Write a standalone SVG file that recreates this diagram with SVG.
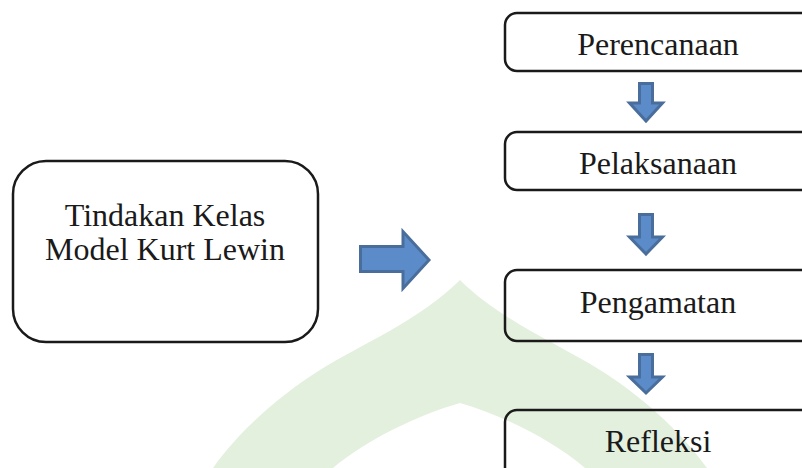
<svg xmlns="http://www.w3.org/2000/svg" width="802" height="468" viewBox="0 0 802 468">
<style>
.box{fill:none;stroke:#1a1a1a;stroke-width:2.5}
.lbl{font-family:"Liberation Serif","Times New Roman",serif;font-size:32px;fill:#1a1a1a;text-anchor:middle}
.arr{fill:#5b8bc8;stroke:#4a6e9c;stroke-width:3;stroke-linejoin:miter}
.wm{fill:#e4f0de}
</style>
<rect width="802" height="468" fill="#ffffff"/>
<path class="wm" d="M213,468 C240,430 280,395 320,370 C360,345 420,320 460,280 C500,320 560,345 600,370 C640,395 680,430 707,468 L585,468 C552,440 502,415 460,403 C418,415 366,440 333,468 Z"/>
<g id="node-tindakan">
<rect class="box" x="13" y="161" width="305" height="181" rx="33" ry="33"/>
<text class="lbl" x="165" y="226">Tindakan Kelas</text>
<text class="lbl" x="165" y="260">Model Kurt Lewin</text>
</g>
<g id="node-perencanaan">
<rect class="box" x="505" y="13" width="310" height="58" rx="12" ry="12"/>
<text class="lbl" x="658" y="55">Perencanaan</text>
</g>
<g id="node-pelaksanaan">
<rect class="box" x="505" y="132" width="310" height="58" rx="12" ry="12"/>
<text class="lbl" x="658" y="174">Pelaksanaan</text>
</g>
<g id="node-pengamatan">
<rect class="box" x="505" y="270" width="310" height="71" rx="12" ry="12"/>
<text class="lbl" x="658" y="313">Pengamatan</text>
</g>
<g id="node-refleksi">
<rect class="box" x="505" y="410" width="310" height="70" rx="12" ry="12"/>
<text class="lbl" x="658" y="452">Refleksi</text>
</g>
<g id="connectors">
<polygon class="arr" points="360.5,246.5 403,246.5 403,231.5 429,260 403,288.5 403,271.5 360.5,271.5"/>
<polygon class="arr" points="639.5,83.5 652.5,83.5 652.5,103 662.5,103 646,121 629.5,103 639.5,103"/>
<polygon class="arr" points="639.5,214.5 652.5,214.5 652.5,237 662.5,237 646,254 629.5,237 639.5,237"/>
<polygon class="arr" points="639.5,354.5 652.5,354.5 652.5,377 662.5,377 646,393 629.5,377 639.5,377"/>
</g>
</svg>
